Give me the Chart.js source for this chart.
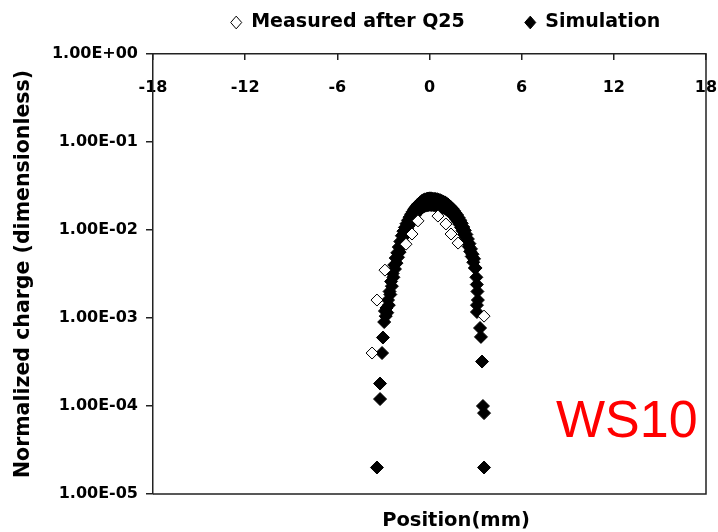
<!DOCTYPE html>
<html>
<head>
<meta charset="utf-8">
<script src="https://cdn.jsdelivr.net/npm/chart.js@4.4.1/dist/chart.umd.min.js"></script>
<style>
  html, body { margin: 0; padding: 0; background: #fff; }
  #wrap { width: 718px; height: 532px; }
</style>
</head>
<body>
<div id="wrap"><canvas id="chart"></canvas></div>
<script>
// measured profile after Q25 (open diamonds)
const measuredX = [-3.74, -3.42, -2.90, -1.53, -1.14, -0.75, 0.55, 1.07, 1.40, 1.86, 3.55];
const measuredY = [4.0e-4, 1.6e-3, 3.5e-3, 6.9e-3, 9.0e-3, 1.27e-2, 1.44e-2, 1.17e-2, 9.0e-3, 7.1e-3, 1.05e-3];

// simulation (filled diamonds)
const simX = [
  -3.42, -3.22, -3.22, -3.09, -3.03, -2.95, -2.90, -2.85, -2.80, -2.75,
  -2.70, -2.65, -2.60, -2.55, -2.50, -2.45, -2.40, -2.35, -2.30, -2.25,
  -2.20, -2.15, -2.10, -2.05, -2.00, -1.95, -1.90, -1.85, -1.80, -1.75,
  -1.70, -1.65, -1.60, -1.55, -1.50, -1.45, -1.40, -1.35, -1.30, -1.25,
  -1.20, -1.15, -1.10, -1.05, -1.00, -0.95, -0.90, -0.85, -0.80, -0.75,
  -0.70, -0.65, -0.60, -0.55, -0.50, -0.45, -0.40, -0.35, -0.30, -0.25,
  -0.20, -0.15, -0.10, -0.05, 0.00, 0.05, 0.10, 0.15, 0.20, 0.25,
  0.30, 0.35, 0.40, 0.45, 0.50, 0.55, 0.60, 0.65, 0.70, 0.75,
  0.80, 0.85, 0.90, 0.95, 1.00, 1.05, 1.10, 1.15, 1.20, 1.25,
  1.30, 1.35, 1.40, 1.45, 1.50, 1.55, 1.60, 1.65, 1.70, 1.75,
  1.80, 1.85, 1.90, 1.95, 2.00, 2.05, 2.10, 2.15, 2.20, 2.25,
  2.30, 2.35, 2.40, 2.45, 2.50, 2.55, 2.60, 2.65, 2.70, 2.75,
  2.80, 2.85, 2.90, 2.95, 3.00, 3.05, 3.08, 3.12, 3.15, 3.09,
  3.09, 3.29, 3.35, 3.42, 3.48, 3.55, 3.55
];
const simY = [
  2.0e-5, 1.2e-4, 1.8e-4, 4.0e-4, 6.0e-4, 9.0e-4, 1.2e-3, 1.05e-3, 1.3e-3, 1.15e-3,
  1.6e-3, 1.4e-3, 2.0e-3, 1.85e-3, 2.6e-3, 2.3e-3, 3.2e-3, 2.9e-3, 4.0e-3, 3.6e-3,
  4.8e-3, 4.2e-3, 5.5e-3, 4.9e-3, 6.4e-3, 5.6e-3, 7.4e-3, 6.4e-3, 8.6e-3, 7.5e-3,
  9.7e-3, 8.5e-3, 1.07e-2, 9.4e-3, 1.18e-2, 1.03e-2, 1.29e-2, 1.12e-2, 1.40e-2, 1.21e-2,
  1.51e-2, 1.30e-2, 1.61e-2, 1.39e-2, 1.72e-2, 1.48e-2, 1.81e-2, 1.55e-2, 1.91e-2, 1.63e-2,
  1.99e-2, 1.70e-2, 2.06e-2, 1.76e-2, 2.14e-2, 1.82e-2, 2.19e-2, 1.86e-2, 2.23e-2, 1.89e-2,
  2.25e-2, 1.91e-2, 2.28e-2, 1.92e-2, 2.29e-2, 1.93e-2, 2.29e-2, 1.92e-2, 2.27e-2, 1.92e-2,
  2.26e-2, 1.91e-2, 2.25e-2, 1.90e-2, 2.24e-2, 1.88e-2, 2.21e-2, 1.86e-2, 2.18e-2, 1.84e-2,
  2.14e-2, 1.81e-2, 2.10e-2, 1.78e-2, 2.06e-2, 1.74e-2, 2.01e-2, 1.69e-2, 1.95e-2, 1.64e-2,
  1.88e-2, 1.59e-2, 1.81e-2, 1.53e-2, 1.74e-2, 1.46e-2, 1.65e-2, 1.39e-2, 1.56e-2, 1.32e-2,
  1.48e-2, 1.24e-2, 1.38e-2, 1.16e-2, 1.29e-2, 1.07e-2, 1.19e-2, 9.8e-3, 1.08e-2, 8.9e-3,
  9.9e-3, 8.2e-3, 8.9e-3, 7.3e-3, 7.9e-3, 6.5e-3, 7.0e-3, 5.7e-3, 6.1e-3, 5.0e-3,
  5.3e-3, 4.3e-3, 4.7e-3, 3.7e-3, 3.7e-3, 2.9e-3, 2.4e-3, 2.0e-3, 1.6e-3, 1.4e-3,
  1.17e-3, 7.7e-4, 6.1e-4, 3.2e-4, 1.0e-4, 8.3e-5, 2.0e-5
];

const xTicks = [-18, -12, -6, 0, 6, 12, 18];
const yTicks = [1e-5, 1e-4, 1e-3, 1e-2, 1e-1, 1];

Chart.defaults.font.family = "'DejaVu Sans', sans-serif";
Chart.defaults.color = '#000';

// 1.00E-02 style labels
function fmtSci(v) {
  const e = Math.round(Math.log10(v));
  const m = v / Math.pow(10, e);
  const sign = e < 0 ? '-' : '+';
  return m.toFixed(2) + 'E' + sign + String(Math.abs(e)).padStart(2, '0');
}

// right/bottom frame, x title and the WS10 tag
const framePlugin = {
  id: 'frame',
  afterLayout(chart) {
    // move the legend row up into the top margin
    const lg = chart.legend;
    const a = chart.chartArea;
    lg.left = a.left + 16;
    lg.right = a.right + 16;
    lg.top = -47;
    lg.bottom = 45;
    lg.width = lg.right - lg.left;
    lg.height = lg.bottom - lg.top;
  },
  afterDraw(chart) {
    const { ctx, chartArea: a } = chart;
    ctx.save();
    ctx.strokeStyle = '#222';
    ctx.lineWidth = 1.5;
    ctx.beginPath();
    ctx.moveTo(a.right, a.top);
    ctx.lineTo(a.right, a.bottom);
    ctx.lineTo(a.left, a.bottom);
    ctx.stroke();

    ctx.fillStyle = '#000';
    ctx.font = "bold 19.5px 'DejaVu Sans'";
    ctx.textAlign = 'center';
    ctx.textBaseline = 'middle';
    ctx.fillText('Position(mm)', a.left + 303, a.bottom + 27);

    ctx.fillStyle = '#ff0000';
    ctx.font = "52px 'Liberation Sans'";
    ctx.textAlign = 'left';
    ctx.textBaseline = 'alphabetic';
    ctx.fillText('WS10', a.left + 403, a.bottom - 57);
    ctx.restore();
  }
};

new Chart(document.getElementById('chart'), {
  type: 'scatter',
  data: {
    datasets: [
      {
        label: 'Measured after Q25',
        data: measuredX.map((x, i) => ({ x: x, y: measuredY[i] })),
        pointStyle: 'rectRot',
        pointRadius: 6,
        backgroundColor: '#fff',
        borderColor: '#000',
        borderWidth: 1
      },
      {
        label: 'Simulation',
        data: simX.map((x, i) => ({ x: x, y: simY[i] })),
        pointStyle: 'rectRot',
        pointRadius: 6.5,
        backgroundColor: '#000',
        borderColor: '#000',
        borderWidth: 1
      }
    ]
  },
  options: {
    responsive: true,
    maintainAspectRatio: false,
    animation: false,
    layout: { padding: { left: 0, right: 12, top: 0, bottom: 38 } },
    plugins: {
      tooltip: { enabled: false },
      legend: {
        position: 'top',
        maxHeight: 30,
        labels: {
          usePointStyle: true,
          pointStyleWidth: 11,
          boxHeight: 9,
          padding: 60,
          color: '#000',
          font: { size: 19, weight: 'bold' }
        }
      }
    },
    scales: {
      x: {
        type: 'linear',
        position: 'top',
        min: -18,
        max: 18,
        afterBuildTicks: s => { s.ticks = xTicks.map(v => ({ value: v })); },
        afterFit: s => { s.height = 24; s.paddingLeft = 0; s.paddingRight = 0; },
        ticks: {
          mirror: true,
          padding: 24,
          maxRotation: 0,
          autoSkip: false,
          color: '#000',
          font: { size: 16, weight: 'bold' }
        },
        grid: { drawOnChartArea: false, tickLength: -6, color: '#222', lineWidth: 1.5 },
        border: { display: true, color: '#222', width: 1.5 }
      },
      y: {
        type: 'logarithmic',
        min: 1e-5,
        max: 1,
        afterBuildTicks: s => { s.ticks = yTicks.map(v => ({ value: v })); },
        afterFit: s => { s.width = 153; },
        ticks: {
          callback: v => fmtSci(v),
          padding: 8,
          autoSkip: false,
          color: '#000',
          font: { size: 16, weight: 'bold' }
        },
        grid: { drawOnChartArea: false, tickLength: 7, color: '#222', lineWidth: 1.5 },
        border: { display: true, color: '#222', width: 1.5 },
        title: {
          display: true,
          text: 'Normalized charge (dimensionless)',
          color: '#000',
          font: { size: 20.5, weight: 'bold' },
          padding: { top: 11, bottom: 0 }
        }
      }
    }
  },
  plugins: [framePlugin]
});
</script>
</body>
</html>
